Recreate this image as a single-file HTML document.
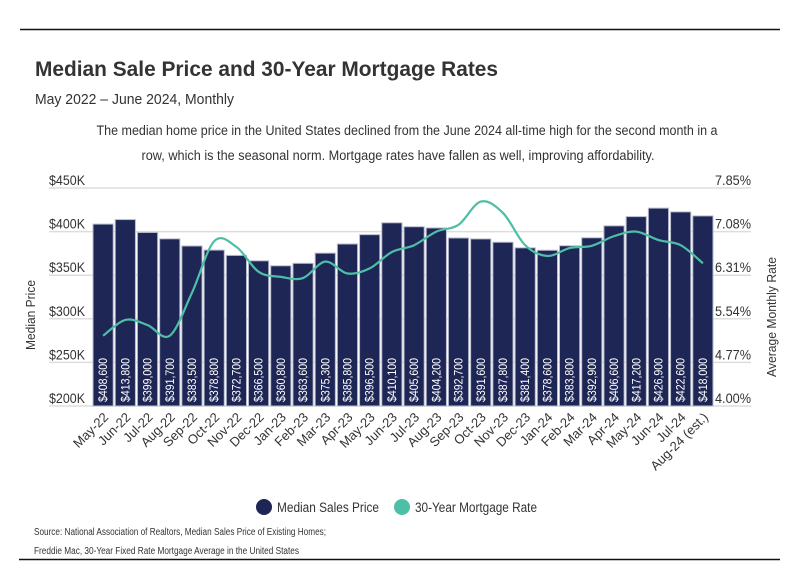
<!DOCTYPE html>
<html><head><meta charset="utf-8"><style>
body{margin:0;background:#fff;}
svg{display:block;font-family:"Liberation Sans",sans-serif;}
</style></head><body>
<svg id="chart" width="799" height="575" viewBox="0 0 799 575">
<line x1="20" y1="29.5" x2="780" y2="29.5" stroke="#111" stroke-width="1.5"/>
<text x="35" y="76" font-size="21" font-weight="bold" fill="#333" textLength="463" lengthAdjust="spacingAndGlyphs">Median Sale Price and 30-Year Mortgage Rates</text>
<text x="35" y="104" font-size="15" fill="#333" textLength="199" lengthAdjust="spacingAndGlyphs">May 2022 – June 2024, Monthly</text>
<text x="407" y="135" font-size="13.5" fill="#333" text-anchor="middle" textLength="621" lengthAdjust="spacingAndGlyphs">The median home price in the United States declined from the June 2024 all-time high for the second month in a</text>
<text x="398" y="160" font-size="13.5" fill="#333" text-anchor="middle" textLength="513" lengthAdjust="spacingAndGlyphs">row, which is the seasonal norm. Mortgage rates have fallen as well, improving affordability.</text>
<g id="grid"></g>
<g id="bars"></g>
<g id="line"></g>
<g id="axes"></g>
<text transform="translate(35,315) rotate(-90)" font-size="13" fill="#333" text-anchor="middle" textLength="70" lengthAdjust="spacingAndGlyphs">Median Price</text>
<text transform="translate(776,317) rotate(-90)" font-size="13" fill="#333" text-anchor="middle" textLength="120" lengthAdjust="spacingAndGlyphs">Average Monthly Rate</text>
<g>
<circle cx="264" cy="507" r="8" fill="#1e2656"/>
<text x="277" y="512" font-size="13.5" fill="#333" textLength="102" lengthAdjust="spacingAndGlyphs">Median Sales Price</text>
<circle cx="402" cy="507" r="8" fill="#4dbfa6"/>
<text x="415" y="512" font-size="13.5" fill="#333" textLength="122" lengthAdjust="spacingAndGlyphs">30-Year Mortgage Rate</text>
</g>
<text x="34" y="535" font-size="10" fill="#333" textLength="292" lengthAdjust="spacingAndGlyphs">Source: National Association of Realtors, Median Sales Price of Existing Homes;</text>
<text x="34" y="554" font-size="10" fill="#333" textLength="265" lengthAdjust="spacingAndGlyphs">Freddie Mac, 30-Year Fixed Rate Mortgage Average in the United States</text>
<line x1="19" y1="559.5" x2="780" y2="559.5" stroke="#111" stroke-width="1.5"/>
</svg>
<script>
const categories=["May-22","Jun-22","Jul-22","Aug-22","Sep-22","Oct-22","Nov-22","Dec-22","Jan-23","Feb-23","Mar-23","Apr-23","May-23","Jun-23","Jul-23","Aug-23","Sep-23","Oct-23","Nov-23","Dec-23","Jan-24","Feb-24","Mar-24","Apr-24","May-24","Jun-24","Jul-24","Aug-24 (est.)"];
const prices=[408600,413800,399000,391700,383500,378800,372700,366500,360800,363600,375300,385800,396500,410100,405600,404200,392700,391600,387800,381400,378600,383800,392900,406600,417200,426900,422600,418000];
const rates=[5.24,5.52,5.43,5.24,6.0,6.91,6.81,6.37,6.28,6.26,6.55,6.34,6.43,6.72,6.84,7.08,7.20,7.61,7.41,6.84,6.65,6.79,6.83,7.00,7.08,6.93,6.84,6.52];
const leftTicks=[200000,250000,300000,350000,400000,450000];
const leftTickLabels=["$200K","$250K","$300K","$350K","$400K","$450K"];
const rightTicks=[4.00,4.77,5.54,6.31,7.08,7.85];
const rightTickLabels=["4.00%","4.77%","5.54%","6.31%","7.08%","7.85%"];
const NS="http://www.w3.org/2000/svg";
const X0=92,X1=714,Y0=406,Y1=188;
const band=(X1-X0)/categories.length;
const xc=i=>X0+band*(i+0.5);
const yL=v=>Y0-(v-200000)/(450000-200000)*(Y0-Y1);
const yR=v=>Y0-(v-4)/(7.85-4)*(Y0-Y1);
function mk(tag,attrs,parent){const e=document.createElementNS(NS,tag);for(const k in attrs)e.setAttribute(k,attrs[k]);parent.appendChild(e);return e;}
const grid=document.getElementById('grid'),bars=document.getElementById('bars'),lineG=document.getElementById('line'),axes=document.getElementById('axes');
leftTicks.forEach((t,i)=>{
 const g=mk('line',{x1:49,x2:751,y1:yL(t),y2:yL(t),stroke:'#ddd','stroke-width':1.5},grid);
 
 
 const tx=mk('text',{x:49,y:yL(t)-3,'font-size':14,fill:'#333','text-anchor':'start',textLength:36,lengthAdjust:'spacingAndGlyphs'},axes);
 tx.textContent=leftTickLabels[i];
 
 
});
rightTicks.forEach((t,i)=>{
 const tx=mk('text',{x:751,y:yR(t)-3,'font-size':14,fill:'#333','text-anchor':'end',textLength:36,lengthAdjust:'spacingAndGlyphs'},axes);
 tx.textContent=rightTickLabels[i];
 
 
});
prices.forEach((p,i)=>{
 const w=band-2,x=xc(i)-w/2,y=yL(p);
 const r=mk('rect',{x:x,y:y,width:w,height:Y0-y,fill:'#1e2656',stroke:'#b8bccc','stroke-width':1},bars);
 
 
 const t=mk('text',{transform:`translate(${xc(i)+4},${Y0-4}) rotate(-90)`,'font-size':11.5,fill:'#fff',textLength:44,lengthAdjust:'spacingAndGlyphs'},bars);
 t.textContent='$'+p.toLocaleString('en-US');
 
 
 const c=mk('text',{transform:`translate(${xc(i)+6},${Y0+12}) rotate(-45)`,'font-size':13,fill:'#333','text-anchor':'end'},axes);
 c.textContent=categories[i];
 
 
});
const pts=rates.map((r,i)=>[xc(i),yR(r)]);
let d=`M${pts[0][0]},${pts[0][1]}`;
for(let i=0;i<pts.length-1;i++){
 const p0=pts[Math.max(0,i-1)],p1=pts[i],p2=pts[i+1],p3=pts[Math.min(pts.length-1,i+2)];
 const c1=[p1[0]+(p2[0]-p0[0])/6,p1[1]+(p2[1]-p0[1])/6],c2=[p2[0]-(p3[0]-p1[0])/6,p2[1]-(p3[1]-p1[1])/6];
 d+=` C${c1[0]},${c1[1]} ${c2[0]},${c2[1]} ${p2[0]},${p2[1]}`;
}
const path=mk('path',{d:d,fill:'none',stroke:'#4dbfa6','stroke-width':2.2},lineG);


</script>
</body></html>
